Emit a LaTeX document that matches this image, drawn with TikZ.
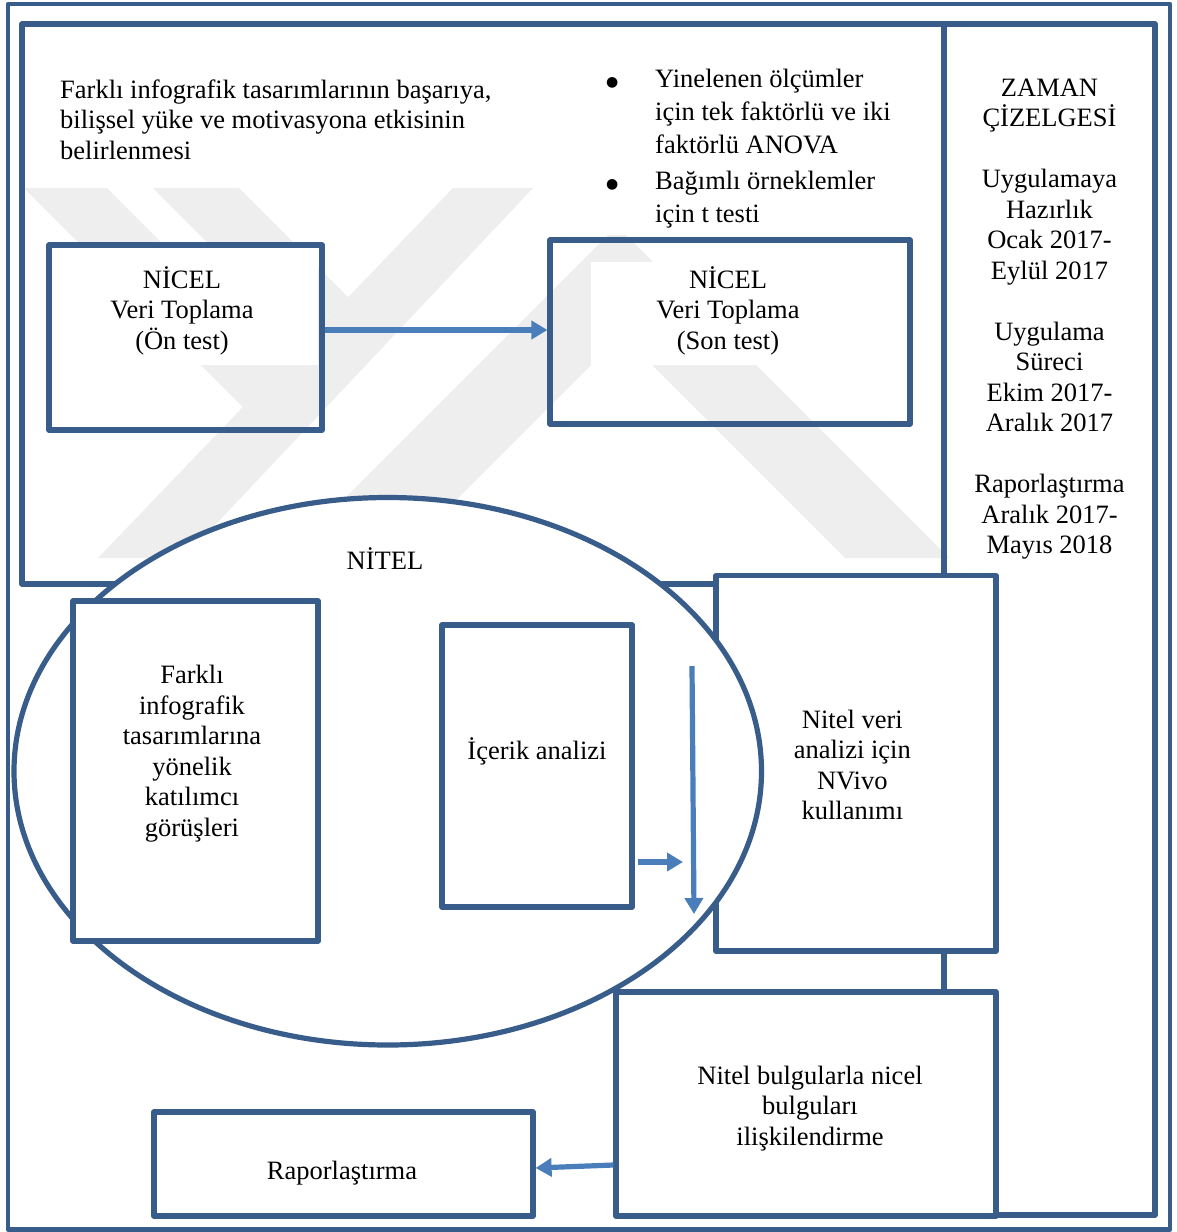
\documentclass[tikz,border=0pt]{standalone}
\usepackage{fontspec}
\setmainfont{Liberation Serif}
\newfontfamily\symfont{DejaVu Sans}
\usetikzlibrary{arrows.meta,calc,shapes.geometric}
\definecolor{frameblue}{HTML}{385D8A}
\definecolor{arrowblue}{HTML}{4A7EBB}
\definecolor{wmgray}{HTML}{EEEEEE}
\newcommand{\bul}{\makebox[0pt][c]{\symfont\fontsize{14}{14}\selectfont\raisebox{1pt}{●}}}
\begin{document}
\begin{tikzpicture}[x=1pt,y=-1pt,
  box/.style={draw=frameblue, line width=5.2pt, rectangle, inner sep=0pt, line join=round},
  wbox/.style={box, fill=white},
  txt/.style={font=\fontsize{26.5}{30.5}\selectfont, align=center, inner sep=0pt,
    execute at begin node=\strut, execute at end node=\strut},
  arr/.style={draw=arrowblue, line width=5.2pt, -{Triangle[length=16pt,width=18pt]}},
  wm/.style={fill=wmgray},
]
\useasboundingbox (0,0) rectangle (1176,1232);
\fill[white] (0,0) rectangle (1176,1232);

% faint background emblem
\fill[wm] (24,188) -- (107,188) -- (283.5,364.5) -- (243,407) -- cycle;
\fill[wm] (153,188) -- (239,188) -- (348,297) -- (306,341) -- cycle;
\fill[wm] (98,558) -- (184,558) -- (533,188) -- (453,188) -- cycle;
\fill[wm] (285,558) -- (617,226) -- (949,558) -- (845,558) -- (621.5,334.5) -- (398,558) -- cycle;
% white text areas over the emblem
\fill[white] (52,248) rectangle (318,365);
\fill[white] (591,262) rectangle (906,365);
\fill[white] (600,160) rectangle (918,235);

% frames
\node[box, line width=4.4pt, minimum width=1162pt, minimum height=1225.5pt] (outer) at (589,616.75) {};
\node[box, minimum width=922pt, minimum height=560pt] (nicelzone) at (483,304) {};
\node[box, minimum width=211pt, minimum height=1191pt] (zaman) at (1049.5,619.5) {};

% quantitative part
\node[box, minimum width=273pt, minimum height=185pt] (onkutu) at (185.5,337.5) {};
\node[box, minimum width=360pt, minimum height=184pt] (sonkutu) at (730,332) {};

% NVivo box sits under the ellipse
\node[wbox, minimum width=280pt, minimum height=375.5pt] (nvivo) at (856,763.25) {};

% qualitative part
\node[draw=frameblue, line width=5.2pt, fill=white, ellipse, inner sep=0pt,
  minimum width=747.5pt, minimum height=547.5pt] (nitel) at (387.75,771.25) {};
\node[wbox, minimum width=245pt, minimum height=340pt] (gorus) at (195.5,771) {};
\node[wbox, minimum width=190pt, minimum height=282pt] (icerik) at (537,766) {};

\node[wbox, minimum width=380pt, minimum height=224pt] (bulgu) at (806,1104) {};
\node[wbox, minimum width=379pt, minimum height=104pt] (rapor) at (343.5,1164) {};

% texts
\node[txt, align=left, anchor=north west] (amac) at (60,79.45)
  {Farklı infografik tasarımlarının başarıya,\\bilişsel yüke ve motivasyona etkisinin\\belirlenmesi};
\node[font=\fontsize{26.5}{33}\selectfont, inner sep=0pt, anchor=north west] (analiz) at (612,64.2)
  {\begin{tabular}{@{}l@{\hspace{43pt}}l@{}}
   \bul & Yinelenen ölçümler\\
        & için tek faktörlü ve iki\\
        & faktörlü ANOVA\\[2.7pt]
   \bul & Bağımlı örneklemler\\
        & için t testi
   \end{tabular}};
\node[txt, anchor=north] (zamantxt) at (1049.5,78.65)
  {ZAMAN\\ÇİZELGESİ\\[30.5pt]Uygulamaya\\Hazırlık\\Ocak 2017-\\Eylül 2017\\[30.5pt]Uygulama\\Süreci\\Ekim 2017-\\Aralık 2017\\[30.5pt]Raporlaştırma\\Aralık 2017-\\Mayıs 2018};
\node[txt, anchor=north] (ontxt) at (182,266.15) {NİCEL\\Veri Toplama\\(Ön test)};
\node[txt, anchor=north] (sontxt) at (728,266.15) {NİCEL\\Veri Toplama\\(Son test)};
\node[txt, anchor=north] (niteltxt) at (385,546.95) {NİTEL};
\node[txt, anchor=north] (gorustxt) at (192,665.35)
  {Farklı\\infografik\\tasarımlarına\\yönelik\\katılımcı\\görüşleri};
\node[txt, anchor=north] (iceriktxt) at (537,737.65) {İçerik analizi};
\node[txt, anchor=north] (nvivotxt) at (852.3,709.85) {Nitel veri\\analizi için\\NVivo\\kullanımı};
\node[txt, anchor=north] (bulgutxt) at (810,1065.45) {Nitel bulgularla nicel\\bulguları\\ilişkilendirme};
\node[txt, anchor=north] (raportxt) at (342,1157.95) {Raporlaştırma};

% connectors
\coordinate (okucu) at (683,862);
\coordinate (dikbas) at (692,666);
\coordinate (dikson) at (694,914);
\draw[arr] (onkutu.east |- 0,330) -- (sonkutu.west |- 0,330);
\draw[arr] ($(icerik.east |- 0,862)+(3,0)$) -- (okucu);
\draw[arr] (dikbas) -- (dikson);
\draw[arr] (bulgu.west |- 0,1165) -- (rapor.east |- 0,1168);
\end{tikzpicture}
\end{document}
